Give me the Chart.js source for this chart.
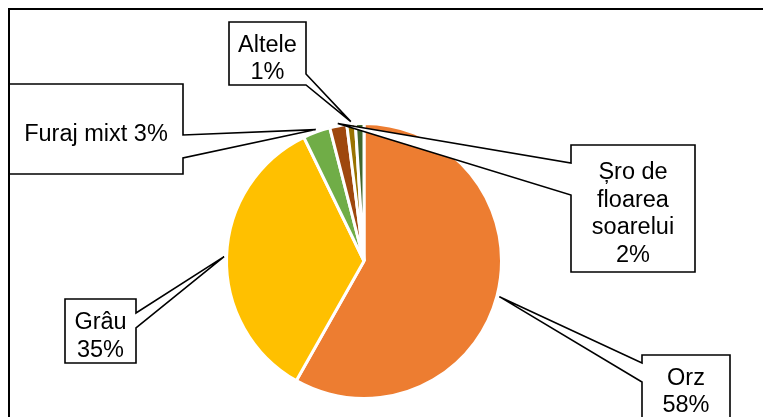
<!DOCTYPE html>
<html><head><meta charset="utf-8">
<script src="https://cdn.jsdelivr.net/npm/chart.js@4/dist/chart.umd.min.js"></script>
<style>html,body{margin:0;padding:0;background:#fff;overflow:hidden}</style>
</head><body>
<canvas id="c" width="763" height="417"></canvas>
<script>
// ---- data ----
const categories = ["Orz", "Grâu", "Furaj mixt", "Șro de floarea soarelui", "Altele", ""];
const shares = [58.2, 34.6, 3.2, 2.0, 1.0, 1.0];
const labelLines = [["Orz", "{p}"], ["Grâu", "{p}"], ["Furaj mixt {p}"], ["Șro de", "floarea", "soarelui", "{p}"], ["Altele", "{p}"], null];

// ---- styles / layout ----
const sliceColors = ["#ED7D31", "#FFC000", "#70AD47", "#9E480E", "#997300", "#43682B"];
const calloutLayout = [
  {box: [642, 355, 730, 418], side: "left", a: 363, b: 382},
  {box: [65, 299, 136, 363], side: "right", a: 313, b: 328},
  {box: [9, 84, 183, 174], side: "right", a: 135, b: 158},
  {box: [571, 145, 695, 272], side: "left", a: 163, b: 195},
  {box: [229, 22, 306, 85], side: "right", a: 74, b: 85},
  null
];

const total = shares.reduce((s, v) => s + v, 0);

function drawCallout(ctx, lay, tip, lines) {
  const [x0, y0, x1, y1] = lay.box;
  ctx.beginPath();
  ctx.moveTo(x0, y0);
  ctx.lineTo(x1, y0);
  if (lay.side === "right") { ctx.lineTo(x1, lay.a); ctx.lineTo(tip.x, tip.y); ctx.lineTo(x1, lay.b); }
  ctx.lineTo(x1, y1);
  if (lay.side === "bottom") { ctx.lineTo(lay.b, y1); ctx.lineTo(tip.x, tip.y); ctx.lineTo(lay.a, y1); }
  ctx.lineTo(x0, y1);
  if (lay.side === "left") { ctx.lineTo(x0, lay.b); ctx.lineTo(tip.x, tip.y); ctx.lineTo(x0, lay.a); }
  ctx.closePath();
  ctx.fillStyle = "#fff";
  ctx.fill();
  ctx.lineWidth = 1.6;
  ctx.strokeStyle = "#000";
  ctx.lineJoin = "miter";
  ctx.stroke();
  const cx = (x0 + x1) / 2, cy = (y0 + y1) / 2;
  const lh = 27.5;
  ctx.fillStyle = "#000";
  ctx.font = '23.5px "Liberation Sans", Arial, sans-serif';
  ctx.textAlign = "center";
  ctx.textBaseline = "alphabetic";
  lines.forEach((t, i) => {
    ctx.fillText(t, cx, cy - lines.length * lh / 2 + lh * i + 25.5);
  });
}

const calloutPlugin = {
  id: "callouts",
  beforeDraw(chart) {
    const ctx = chart.ctx;
    ctx.save();
    ctx.fillStyle = "#fff";
    ctx.fillRect(0, 0, chart.width, chart.height);
    ctx.restore();
  },
  afterDraw(chart) {
    const ctx = chart.ctx;
    const meta = chart.getDatasetMeta(0);
    ctx.save();
    meta.data.forEach((arc, i) => {
      const lay = calloutLayout[i];
      if (!lay || !labelLines[i]) return;
      const p = arc.getProps(["x", "y", "startAngle", "endAngle", "outerRadius"], true);
      const mid = (p.startAngle + p.endAngle) / 2;
      const r = p.outerRadius + 2.5;
      const tip = {x: p.x + r * Math.cos(mid), y: p.y + r * Math.sin(mid)};
      const pct = Math.round(shares[i] / total * 100) + "%";
      const lines = labelLines[i].map(t => t.replace("{p}", pct));
      drawCallout(ctx, lay, tip, lines);
    });
    // outer frame
    ctx.lineWidth = 2;
    ctx.strokeStyle = "#000";
    ctx.strokeRect(9, 9, 900, 600);
    ctx.restore();
  }
};

new Chart(document.getElementById("c"), {
  type: "pie",
  data: {
    labels: categories,
    datasets: [{
      data: shares,
      backgroundColor: sliceColors,
      borderColor: "#fff",
      borderWidth: 3
    }]
  },
  options: {
    responsive: false,
    animation: false,
    radius: 137.5,
    layout: {padding: {left: 100, right: 135, top: 110, bottom: 5}},
    plugins: {legend: {display: false}, tooltip: {enabled: false}}
  },
  plugins: [calloutPlugin]
});
</script>
</body></html>
